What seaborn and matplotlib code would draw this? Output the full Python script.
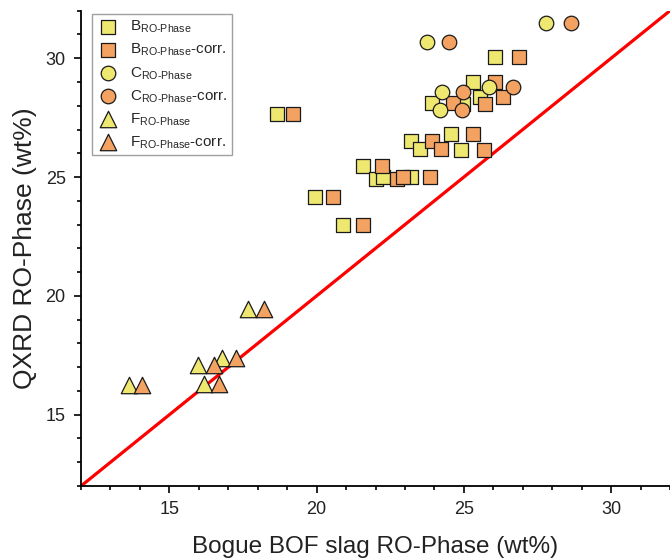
import matplotlib
matplotlib.use("Agg")
import matplotlib.pyplot as plt
from matplotlib.ticker import MultipleLocator
import seaborn as sns

# Bogue (calculated) vs. QXRD RO-phase contents, wt%
b_x = [18.66, 19.95, 20.91, 21.57, 22.02, 22.26, 23.20, 23.21, 23.51, 24.56,
       24.91, 25.30, 25.55, 24.97, 23.91, 26.07]
b_x_corr = [19.21, 20.55, 21.57, 22.23, 22.72, 22.94, 23.85, 23.93, 24.22, 25.32,
            25.68, 26.06, 26.34, 25.72, 24.64, 26.87]
b_y = [27.67, 24.15, 22.98, 25.45, 24.93, 25.01, 25.02, 26.50, 26.20, 26.83,
       26.15, 28.98, 28.38, 28.07, 28.10, 30.05]

c_x = [27.79, 23.76, 24.27, 24.19, 25.87]
c_x_corr = [28.63, 24.50, 24.98, 24.93, 26.68]
c_y = [31.48, 30.70, 28.56, 27.81, 28.80]

f_x = [13.64, 16.19, 15.98, 16.78, 17.68]
f_x_corr = [14.06, 16.70, 16.52, 17.26, 18.22]
f_y = [16.27, 16.30, 17.11, 17.39, 19.44]

series_labels = [
    r"B$_{\mathregular{RO\text{-}Phase}}$",
    r"B$_{\mathregular{RO\text{-}Phase}}$-corr.",
    r"C$_{\mathregular{RO\text{-}Phase}}$",
    r"C$_{\mathregular{RO\text{-}Phase}}$-corr.",
    r"F$_{\mathregular{RO\text{-}Phase}}$",
    r"F$_{\mathregular{RO\text{-}Phase}}$-corr.",
]

axis_range = [12, 32]

YELLOW = "#EEE770"
ORANGE = "#F3A262"

sns.set_theme(style="ticks")
plt.rcParams["font.family"] = ["Liberation Sans", "DejaVu Sans"]
plt.rcParams["mathtext.fontset"] = "custom"
plt.rcParams["mathtext.rm"] = "Liberation Sans"

fig = plt.figure(figsize=(6.7, 5.6), dpi=100)
ax = fig.add_axes([0.1209, 0.1321, 0.8791, 0.8488])

# 1:1 reference line
sns.lineplot(x=axis_range, y=axis_range, color="#FF0000", linewidth=2.3, ax=ax,
             legend=False, zorder=2)

groups = [
    (b_x, b_y, "s", 90, YELLOW, series_labels[0]),
    (b_x_corr, b_y, "s", 90, ORANGE, series_labels[1]),
    (c_x, c_y, "o", 110, YELLOW, series_labels[2]),
    (c_x_corr, c_y, "o", 110, ORANGE, series_labels[3]),
    (f_x, f_y, "^", 140, YELLOW, series_labels[4]),
    (f_x_corr, f_y, "^", 140, ORANGE, series_labels[5]),
]
for xs, ys, mk, size, col, lab in groups:
    sns.scatterplot(x=xs, y=ys, marker=mk, s=size, color=col, edgecolor="#1a1a1a",
                    linewidth=0.9, label=lab, ax=ax, zorder=3)

ax.set_xlim(axis_range)
ax.set_ylim(axis_range)
ax.xaxis.set_major_locator(MultipleLocator(5))
ax.xaxis.set_minor_locator(MultipleLocator(1))
ax.yaxis.set_major_locator(MultipleLocator(5))
ax.yaxis.set_minor_locator(MultipleLocator(1))
ax.tick_params(which="major", direction="out", length=5, width=1.2, labelsize=13,
               color="black", labelcolor="#222222", pad=6)
ax.tick_params(which="minor", direction="out", length=3, width=1.2, color="black")

sns.despine(ax=ax, top=True, right=True)
for side in ("left", "bottom"):
    ax.spines[side].set_linewidth(1.3)
    ax.spines[side].set_color("black")

ax.set_xlabel("Bogue BOF slag RO-Phase (wt%)", fontsize=17.5, color="#222222", labelpad=13)
ax.set_ylabel("QXRD RO-Phase (wt%)", fontsize=19, color="#222222", labelpad=6)

leg = ax.legend(loc="upper left", bbox_to_anchor=(0.018, 0.993), borderaxespad=0,
                fontsize=11, frameon=True, fancybox=False, edgecolor="#888888",
                labelspacing=0.42, handletextpad=0.6, borderpad=0.3,
                handlelength=1.6)
leg.get_frame().set_linewidth(1.0)

fig.savefig("out.png", dpi=100)
